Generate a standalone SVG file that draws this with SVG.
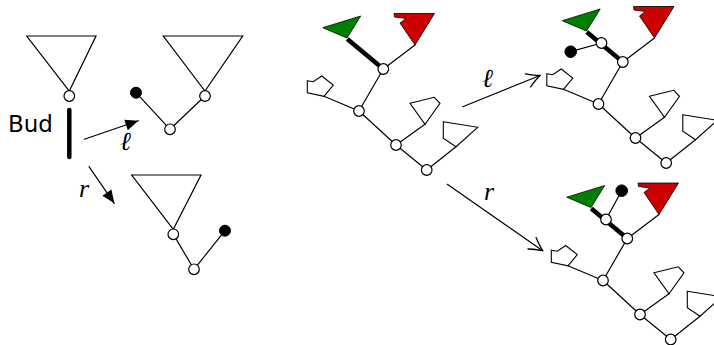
<svg xmlns="http://www.w3.org/2000/svg" xmlns:xlink="http://www.w3.org/1999/xlink" width="714" height="345" viewBox="0 0 714 345">
<style>
.e{stroke:#000;stroke-width:1.2;fill:none;stroke-linecap:round}
.thick{stroke:#000;stroke-width:4.5;fill:none;stroke-linecap:butt}
.n{fill:#fff;stroke:#000;stroke-width:1.2}
.dot{fill:#000;stroke:#000;stroke-width:1}
.tri{fill:#fff;stroke:#000;stroke-width:1.2;stroke-linejoin:miter}
.wf{fill:#fff;stroke:#000;stroke-width:1.1;stroke-linejoin:miter}
.green{fill:#008000;stroke:#000;stroke-width:0.8}
.red{fill:#cc0000;stroke:#000;stroke-width:0.8}
.lbl{font-family:"Liberation Serif","DejaVu Serif",serif;font-style:italic;font-size:26px;fill:#000}
.sans{font-family:"DejaVu Sans","Liberation Sans",sans-serif;font-size:23px;fill:#000}
</style>
<defs>
<marker id="fillhead" markerUnits="userSpaceOnUse" viewBox="-14 -7 15 14" refX="0" refY="0" markerWidth="15" markerHeight="14" orient="auto">
<path d="M0,0 L-13,-5.5 L-13,5.5 Z" fill="#000"/>
</marker>
<marker id="vee" markerUnits="userSpaceOnUse" viewBox="-15 -9 16 18" refX="0" refY="0" markerWidth="16" markerHeight="18" orient="auto">
<path d="M-13,-7 Q-4,-1.5 0,0 Q-4,1.5 -13,7" fill="none" stroke="#000" stroke-width="1.3" stroke-linecap="round"/>
</marker>
<g id="treeBase">
<polygon class="wf" points="307.3,80.7 313.3,81.7 321.7,76 333.3,85 324,96.3 307.3,92.7"/>
<polygon class="wf" points="410,103.3 434.3,97.3 440,103.3 425,124.3"/>
<polygon class="wf" points="443.3,121.7 477.7,127.3 456,146.7 443.3,138.3"/>
<polygon class="green" points="322.7,27.7 360.7,16 347,38"/>
<polygon class="red" points="394,13.5 434.5,13.5 415,45 400,23 406,18.5 394.5,17"/>
<line class="e" x1="383.3" y1="69" x2="359" y2="111"/>
<line class="e" x1="359" y1="111" x2="396" y2="145"/>
<line class="e" x1="396" y1="145" x2="426.7" y2="170"/>
<line class="e" x1="324" y1="96.3" x2="359" y2="111"/>
<line class="e" x1="425" y1="124.3" x2="396" y2="145"/>
<line class="e" x1="456" y1="146.7" x2="426.7" y2="170"/>
<line class="e" x1="415" y1="45" x2="383.3" y2="69"/>
<line class="thick" x1="347.3" y1="39" x2="383.3" y2="69"/>
</g>
</defs>

<g id="left-start">
<polygon class="tri" points="26.7,36 96,36 69.3,91"/>
<circle class="n" cx="69.3" cy="96" r="5.3"/>
<line x1="69.3" y1="110" x2="69.3" y2="157" stroke="#000" stroke-width="4.5" stroke-linecap="round"/>
<text class="sans" x="8" y="132">Bud</text>
</g>

<g id="left-l-result">
<polygon class="tri" points="163.3,36 242.7,36 205,91"/>
<line class="e" x1="136" y1="92.7" x2="170" y2="129.3"/>
<line class="e" x1="170" y1="129.3" x2="205" y2="96"/>
<circle class="dot" cx="136" cy="92.7" r="5.5"/>
<circle class="n" cx="205" cy="96" r="5.3"/>
<circle class="n" cx="170" cy="129.3" r="5.3"/>
</g>

<g id="left-r-result">
<polygon class="tri" points="131.7,175 201,175 173.3,229.3"/>
<line class="e" x1="173.3" y1="234.3" x2="194" y2="269.3"/>
<line class="e" x1="194" y1="269.3" x2="225" y2="230.7"/>
<circle class="n" cx="173.3" cy="234.3" r="5.3"/>
<circle class="n" cx="194" cy="269.3" r="5.3"/>
<circle class="dot" cx="225" cy="230.7" r="5.5"/>
</g>

<g id="connectors">
<line class="e" x1="84.3" y1="139.3" x2="138.3" y2="120.7" marker-end="url(#fillhead)"/>
<line class="e" x1="89" y1="166.7" x2="114.3" y2="203.3" marker-end="url(#fillhead)"/>
<line class="e" x1="462.7" y1="106.7" x2="540" y2="75.5" marker-end="url(#vee)"/>
<line class="e" x1="447.3" y1="184.3" x2="542.7" y2="250.7" marker-end="url(#vee)"/>
<text class="lbl" x="120" y="150">ℓ</text>
<text class="lbl" x="79" y="197">r</text>
<text class="lbl" x="482" y="86.5">ℓ</text>
<text class="lbl" x="484" y="200">r</text>
</g>

<g id="tree-middle">
<use xlink:href="#treeBase" href="#treeBase"/>
<circle class="n" cx="383.3" cy="69" r="5.3"/>
<circle class="n" cx="359" cy="111" r="5.3"/>
<circle class="n" cx="396" cy="145" r="5.3"/>
<circle class="n" cx="426.7" cy="170" r="5.3"/>
</g>

<g id="tree-l" transform="translate(239.5,-7)">
<use xlink:href="#treeBase" href="#treeBase"/>
<line class="e" x1="331.2" y1="58.7" x2="362" y2="50"/>
<circle class="dot" cx="331.2" cy="58.7" r="5.8"/>
<circle class="n" cx="362" cy="50" r="5.3"/>
<circle class="n" cx="383.3" cy="69" r="5.3"/>
<circle class="n" cx="359" cy="111" r="5.3"/>
<circle class="n" cx="396" cy="145" r="5.3"/>
<circle class="n" cx="426.7" cy="170" r="5.3"/>
</g>

<g id="tree-r" transform="translate(244,169.5)">
<use xlink:href="#treeBase" href="#treeBase"/>
<line class="e" x1="377.7" y1="21.2" x2="362" y2="50"/>
<circle class="dot" cx="377.7" cy="21.2" r="5.8"/>
<circle class="n" cx="362" cy="50" r="5.3"/>
<circle class="n" cx="383.3" cy="69" r="5.3"/>
<circle class="n" cx="359" cy="111" r="5.3"/>
<circle class="n" cx="396" cy="145" r="5.3"/>
<circle class="n" cx="426.7" cy="170" r="5.3"/>
</g>
</svg>
